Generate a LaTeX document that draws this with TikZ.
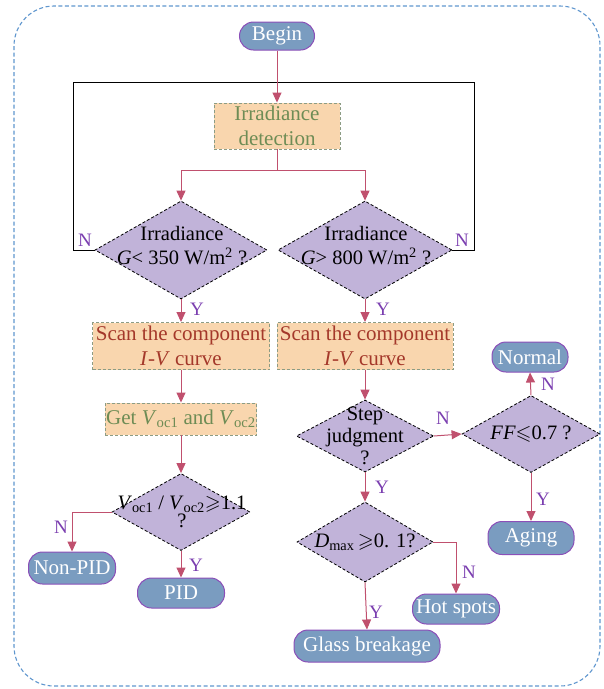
\documentclass[tikz,border=0pt]{standalone}
\usepackage{fontspec}
\usepackage{amssymb}
\setmainfont{Liberation Serif}
\usetikzlibrary{shapes.geometric,arrows.meta}
\definecolor{pillfill}{HTML}{7A9CC0}
\definecolor{pillborder}{HTML}{8B4FB8}
\definecolor{boxfill}{HTML}{F9D6AE}
\definecolor{boxborder}{HTML}{8C9C84}
\definecolor{diafill}{HTML}{C1B3D9}
\definecolor{arrcol}{HTML}{C0506E}
\definecolor{lblcol}{HTML}{7B3FB0}
\definecolor{greentext}{HTML}{6E8C55}
\definecolor{redtext}{HTML}{A4382A}
\definecolor{outerborder}{HTML}{5F96CE}
\begin{document}
\begin{tikzpicture}[x=1pt,y=-1pt,
 every node/.style={font=\fontsize{21}{25}\selectfont},
 pill/.style={draw=pillborder, fill=pillfill, text=white, rounded corners=14pt, minimum height=30pt, inner sep=1pt, line width=1pt},
 procbox/.style={draw=boxborder, dash pattern=on 3pt off 2pt, fill=boxfill, inner sep=1pt, align=center, line width=0.9pt, font=\fontsize{21}{25}\selectfont},
 dia/.style={diamond, draw=black, dash pattern=on 3pt off 2pt, fill=diafill, inner sep=0pt, line width=0.8pt},
 diatext/.style={align=center, text=black, font=\fontsize{20.5}{24}\selectfont},
 arr/.style={draw=arrcol, line width=1pt, -{Triangle[length=10pt,width=9pt]}},
 lbl/.style={text=lblcol, font=\fontsize{19}{20}\selectfont, inner sep=0pt}]
\useasboundingbox (0,0) rectangle (604,689);
\draw[outerborder, dash pattern=on 4pt off 2.5pt, line width=1.1pt, rounded corners=40pt] (14,6) rectangle (600,686);

% nodes
\node[pill, minimum width=75pt, minimum height=28pt] (begin) at (277,36) {Begin};
\node[procbox, minimum width=126pt, minimum height=46pt, text=greentext] (det) at (277,126) {Irradiance\\detection};

\node[dia, minimum width=172pt, minimum height=98pt] (d1) at (181,250) {};
\node[diatext] (t1) at (182,246) {Irradiance\\\textit{G}< 350 W/m\textsuperscript{2} ?};
\node[dia, minimum width=174pt, minimum height=98pt] (d2) at (365,250) {};
\node[diatext] (t2) at (366,246) {Irradiance\\\textit{G}> 800 W/m\textsuperscript{2} ?};

\node[procbox, minimum width=177pt, minimum height=47pt, text=redtext] (scan1) at (181,346) {Scan the component\\\textit{I}-\textit{V} curve};
\node[procbox, minimum width=176pt, minimum height=47pt, text=redtext] (scan2) at (365,346) {Scan the component\\\textit{I}-\textit{V} curve};

\node[procbox, minimum width=146pt, minimum height=32pt, text=greentext] (get) at (181,419) {Get \textit{V}\textsubscript{oc1} and \textit{V}\textsubscript{oc2}};

\node[dia, minimum width=138pt, minimum height=77pt] (d3) at (181,512) {};
\node[diatext] (t3) at (182,512) {\textit{V}\textsubscript{oc1} / \textit{V}\textsubscript{oc2}$\geqslant$1.1\\[-6pt]?};

\node[pill, minimum width=87pt, minimum height=32pt] (nonpid) at (72,568) {Non-PID};
\node[pill, minimum width=87pt, minimum height=30pt] (pid) at (181,593) {PID};

\node[dia, minimum width=137pt, minimum height=72pt] (d4) at (365,436) {};
\node[diatext, font=\fontsize{20.5}{22}\selectfont] (t4) at (365,436) {Step\\judgment\\?};

\node[dia, minimum width=138pt, minimum height=77pt] (d5) at (531,434) {};
\node[diatext] (t5) at (531,434) {\textit{FF}$\leqslant$0.7 ?};

\node[pill, minimum width=76pt, minimum height=30pt] (normal) at (530,357) {Normal};
\node[pill, minimum width=86pt, minimum height=33pt] (aging) at (531,538) {Aging};

\node[dia, minimum width=136pt, minimum height=80pt] (d6) at (365,542) {};
\node[diatext] (t6) at (365,542) {\textit{D}\textsubscript{max}$\,\geqslant$0. 1?};

\node[pill, minimum width=146pt, minimum height=32pt] (glass) at (367,646) {Glass breakage};
\node[pill, minimum width=87pt, minimum height=30pt] (hot) at (456,609) {Hot spots};

% loop lines
\coordinate (lA) at (73,250);
\coordinate (lB) at (73,82);
\coordinate (lC) at (474,82);
\coordinate (lD) at (474,250);
\draw[black, line width=0.9pt] (d1.west) -- (lA) -- (lB) -- (lC) -- (lD) -- (d2.east);
\node[lbl] at (85,240) {N};
\node[lbl] at (462,240) {N};

% connectors
\draw[arr] (begin) -- (det);
\draw[arr] (det.south) -- ++(0,21) -| (d1.north);
\draw[arr] (det.south) -- ++(0,21) -| (d2.north);
\draw[arr] (d1.south) -- (scan1.north);
\node[lbl] at (197,309) {Y};
\draw[arr] (d2.south) -- (scan2.north);
\node[lbl] at (383,309) {Y};
\draw[arr] (scan1) -- (get);
\draw[arr] (get) -- (d3.north);
\draw[arr] (d3.west) -| (nonpid.north);
\node[lbl] at (61,527) {N};
\draw[arr] (d3.south) -- (pid.north);
\node[lbl] at (196,565) {Y};

\draw[arr] (scan2) -- (d4.north);
\draw[arr] (d4.east) -- (d5.west);
\node[lbl] at (443,418) {N};
\draw[arr] (d5.north) -- (normal.south);
\node[lbl] at (548,384) {N};
\draw[arr] (d5.south) -- (aging.north);
\node[lbl] at (543,499) {Y};
\draw[arr] (d4.south) -- (d6.north);
\node[lbl] at (382,487) {Y};
\draw[arr] (d6.south) -- (glass.north);
\node[lbl] at (376,612) {Y};
\draw[arr] (d6.east) -| (hot.north);
\node[lbl] at (469,572) {N};
\end{tikzpicture}
\end{document}
